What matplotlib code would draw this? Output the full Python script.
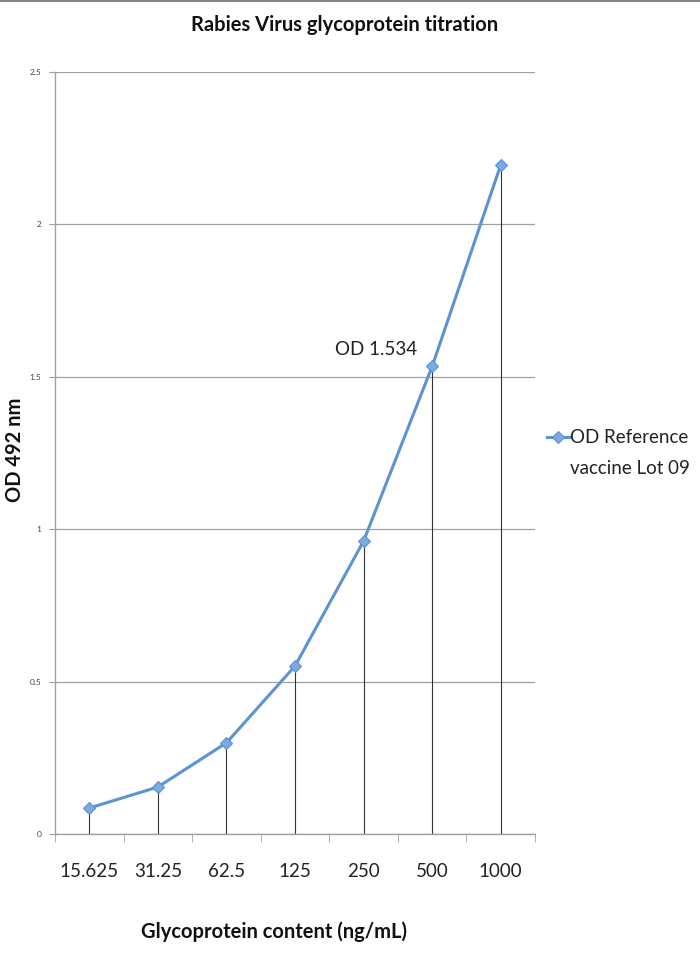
import matplotlib.pyplot as plt
import numpy as np

plt.rcParams['font.family'] = ['Lato', 'DejaVu Sans']

concentrations = ['15.625', '31.25', '62.5', '125', '250', '500', '1000']
od_values = [0.085, 0.154, 0.299, 0.551, 0.961, 1.534, 2.195]
y_ticks = [0, 0.5, 1, 1.5, 2, 2.5]
y_tick_labels = ['0', '0.5', '1', '1.5', '2', '2.5']
legend_lines = ['OD Reference', 'vaccine Lot 09']

blue = '#5b93d3'
grey = '#a0a0a0'

W, H = 700, 964
fig = plt.figure(figsize=(7, 9.64), dpi=100)
ax = fig.add_axes([0.0786, 0.1349, 0.6857, 0.7904])

x = np.arange(len(concentrations))

# drop lines from each point down to zero
ax.vlines(x, 0, od_values, color='#333333', linewidth=0.8, zorder=2)
ax.plot(x, od_values, color=blue, linewidth=2.2, marker='D', markersize=6,
        markerfacecolor='#7aaae0', markeredgecolor=blue, markeredgewidth=0.8,
        label=legend_lines[0], zorder=3)

ax.annotate('OD 1.534', xy=(x[5], od_values[5]), xytext=(-70, 12),
            textcoords='offset points', fontsize=13.5, color='#222222',
            va='center')

ax.set_xlim(-0.5, len(concentrations) - 0.5)
ax.set_ylim(0, 2.5)
ax.set_yticks(y_ticks)
ax.set_yticklabels(y_tick_labels, fontsize=6, color='#444444')
ax.yaxis.grid(True, color=grey, linewidth=0.9)
ax.set_axisbelow(True)

ax.set_xticks(x)
ax.set_xticklabels(concentrations, fontsize=13.5, color='#222222')
ax.set_xticks(np.arange(-0.5, len(concentrations)), minor=True)
ax.tick_params(axis='x', which='major', length=0, pad=21)
ax.tick_params(axis='x', which='minor', length=6, color=grey, direction='out')
ax.tick_params(axis='y', length=4, color=grey, direction='out', pad=6)

for side in ['top', 'right']:
    ax.spines[side].set_visible(False)
for side in ['left', 'bottom']:
    ax.spines[side].set_color(grey)
    ax.spines[side].set_linewidth(1.0)

fig.text(345 / W, 1 - 25 / H, 'Rabies Virus glycoprotein titration', fontsize=14.5,
         fontweight='bold', color='#111111', ha='center', va='center')
fig.text(15 / W, 1 - 450 / H, 'OD 492 nm', fontsize=14.5, fontweight='bold',
         color='#111111', ha='center', va='center', rotation=90)
fig.text(274 / W, 1 - 932 / H, 'Glycoprotein content (ng/mL)', fontsize=14.5,
         fontweight='bold', color='#111111', ha='center', va='center')

# legend: marker sits on the first line, second line wraps below
leg = ax.legend(loc='center left', bbox_to_anchor=(1.0163, 0.5197), frameon=False,
                fontsize=13.5, handlelength=1.2, handletextpad=0.05,
                borderaxespad=0.2, borderpad=0, labelcolor='#222222')
fig.text(570 / W, 1 - 468 / H, legend_lines[1], fontsize=13.5, color='#222222',
         ha='left', va='center')

# thin border line at the top of the picture
fig.add_artist(plt.Line2D([0, 1], [0.999, 0.999], color='#888888', linewidth=1.5))

fig.savefig('out.png', dpi=100)
